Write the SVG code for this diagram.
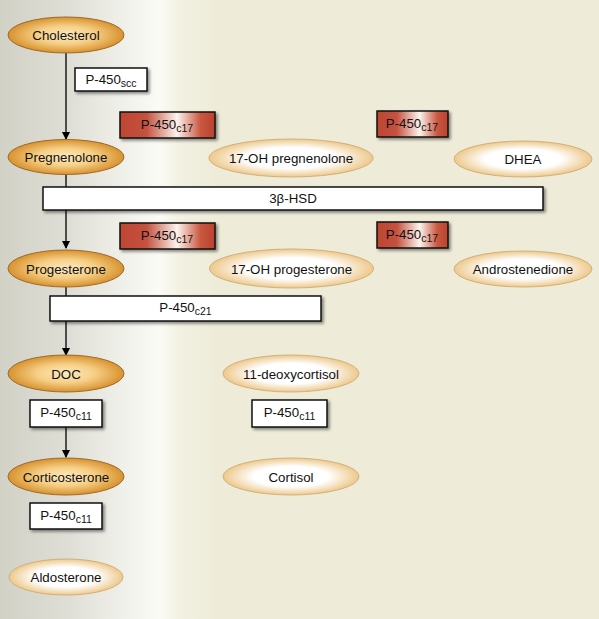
<svg xmlns="http://www.w3.org/2000/svg" width="599" height="619" viewBox="0 0 599 619">
<defs>
<linearGradient id="bg" x1="0" y1="0" x2="599" y2="0" gradientUnits="userSpaceOnUse">
<stop offset="0" stop-color="#d2d1c6"/>
<stop offset="0.12" stop-color="#e0dfd7"/>
<stop offset="0.21" stop-color="#f1f1eb"/>
<stop offset="0.265" stop-color="#fbfbf6"/>
<stop offset="0.3" stop-color="#f2f1e2"/>
<stop offset="0.36" stop-color="#eeecd9"/>
<stop offset="1" stop-color="#eeecd9"/>
</linearGradient>
<radialGradient id="dark" cx="0.5" cy="0.5" r="0.5">
<stop offset="0" stop-color="#fdeac0"/>
<stop offset="0.5" stop-color="#f6cf86"/>
<stop offset="1" stop-color="#d8922e"/>
</radialGradient>
<radialGradient id="light" cx="0.5" cy="0.5" r="0.5">
<stop offset="0" stop-color="#ffffff"/>
<stop offset="0.55" stop-color="#ffffff"/>
<stop offset="1" stop-color="#edc98c"/>
</radialGradient>
<linearGradient id="red" x1="0" y1="0" x2="1" y2="0">
<stop offset="0" stop-color="#bd4532"/>
<stop offset="0.28" stop-color="#c4523f"/>
<stop offset="0.6" stop-color="#fdf3ee"/>
<stop offset="0.85" stop-color="#c9573f"/>
<stop offset="1" stop-color="#bb4330"/>
</linearGradient>
<filter id="sh" x="-10%" y="-30%" width="125%" height="170%">
<feDropShadow dx="2" dy="2" stdDeviation="1.4" flood-color="#000" flood-opacity="0.45"/>
</filter>
<marker id="arr" markerWidth="8" markerHeight="10" refX="7" refY="4" orient="auto" markerUnits="userSpaceOnUse">
<path d="M0,0 L8,4 L0,8 Z" fill="#000"/>
</marker>
<style>
text{font-family:"Liberation Sans",Arial,sans-serif;font-size:13.3px;fill:#111;text-anchor:middle}
.sub{font-size:10.5px}
.ed{fill:url(#dark);stroke:#9b6a2c;stroke-width:1}
.el{fill:url(#light);stroke:#d2b07a;stroke-width:1}
.bw{fill:#fff;stroke:#111;stroke-width:1.5;filter:url(#sh)}
.br{fill:url(#red);stroke:#111;stroke-width:1.5;filter:url(#sh)}
.ln{stroke:#000;stroke-width:1.3;fill:none}
</style>
</defs>
<rect x="0" y="0" width="599" height="619" fill="url(#bg)"/>

<g id="connectors">
<line class="ln" x1="66" y1="53" x2="66" y2="139" marker-end="url(#arr)"/>
<line class="ln" x1="66" y1="175" x2="66" y2="248" marker-end="url(#arr)"/>
<line class="ln" x1="66" y1="287" x2="66" y2="355" marker-end="url(#arr)"/>
<line class="ln" x1="66" y1="427" x2="66" y2="457" marker-end="url(#arr)"/>
</g>

<g id="cholesterol"><ellipse class="ed" cx="66" cy="35" rx="58" ry="18"/><text x="66" y="40">Cholesterol</text></g>
<g id="p450scc"><rect class="bw" x="75" y="68" width="72" height="23"/><text x="111" y="84">P-450<tspan class="sub" dy="3">scc</tspan></text></g>

<g id="p450c17-a"><rect class="br" x="120" y="112" width="95" height="26"/><text x="167" y="129">P-450<tspan class="sub" dy="3">c17</tspan></text></g>
<g id="p450c17-b"><rect class="br" x="377" y="111" width="71" height="26"/><text x="412" y="128">P-450<tspan class="sub" dy="3">c17</tspan></text></g>

<g id="pregnenolone"><ellipse class="ed" cx="66" cy="157" rx="58" ry="17.5"/><text x="66" y="162">Pregnenolone</text></g>
<g id="oh-pregnenolone"><ellipse class="el" cx="291" cy="158" rx="82" ry="19"/><text x="291" y="163">17-OH pregnenolone</text></g>
<g id="dhea"><ellipse class="el" cx="523" cy="159" rx="69" ry="18"/><text x="523" y="164">DHEA</text></g>

<g id="hsd"><rect class="bw" x="43" y="187" width="500" height="23"/><text x="293" y="203">3β-HSD</text></g>

<g id="p450c17-c"><rect class="br" x="120" y="223" width="95" height="26"/><text x="167" y="240">P-450<tspan class="sub" dy="3">c17</tspan></text></g>
<g id="p450c17-d"><rect class="br" x="377" y="222" width="71" height="26"/><text x="412" y="239">P-450<tspan class="sub" dy="3">c17</tspan></text></g>

<g id="progesterone"><ellipse class="ed" cx="66" cy="268.5" rx="58" ry="18.5"/><text x="66" y="273.5">Progesterone</text></g>
<g id="oh-progesterone"><ellipse class="el" cx="291.5" cy="268.5" rx="82" ry="19.5"/><text x="291.5" y="273.5">17-OH progesterone</text></g>
<g id="androstenedione"><ellipse class="el" cx="523" cy="269" rx="69" ry="18"/><text x="523" y="274">Androstenedione</text></g>

<g id="p450c21"><rect class="bw" x="50" y="296" width="271" height="25"/><text x="185.5" y="312">P-450<tspan class="sub" dy="3">c21</tspan></text></g>

<g id="doc"><ellipse class="ed" cx="66" cy="373.5" rx="58" ry="18.5"/><text x="66" y="378.5">DOC</text></g>
<g id="deoxycortisol"><ellipse class="el" cx="291" cy="373.5" rx="68" ry="18.5"/><text x="291" y="378.5">11-deoxycortisol</text></g>

<g id="p450c11-a"><rect class="bw" x="30" y="400" width="72" height="27"/><text x="66" y="417">P-450<tspan class="sub" dy="3">c11</tspan></text></g>
<g id="p450c11-b"><rect class="bw" x="252" y="400" width="75" height="27"/><text x="289.5" y="417">P-450<tspan class="sub" dy="3">c11</tspan></text></g>

<g id="corticosterone"><ellipse class="ed" cx="66" cy="476.5" rx="58" ry="18.5"/><text x="66" y="481.5">Corticosterone</text></g>
<g id="cortisol"><ellipse class="el" cx="291" cy="476.5" rx="68" ry="18.5"/><text x="291" y="481.5">Cortisol</text></g>

<g id="p450c11-c"><rect class="bw" x="30" y="503" width="72" height="26"/><text x="66" y="520">P-450<tspan class="sub" dy="3">c11</tspan></text></g>

<g id="aldosterone"><ellipse class="el" cx="66" cy="577" rx="57" ry="18"/><text x="66" y="582">Aldosterone</text></g>
</svg>
